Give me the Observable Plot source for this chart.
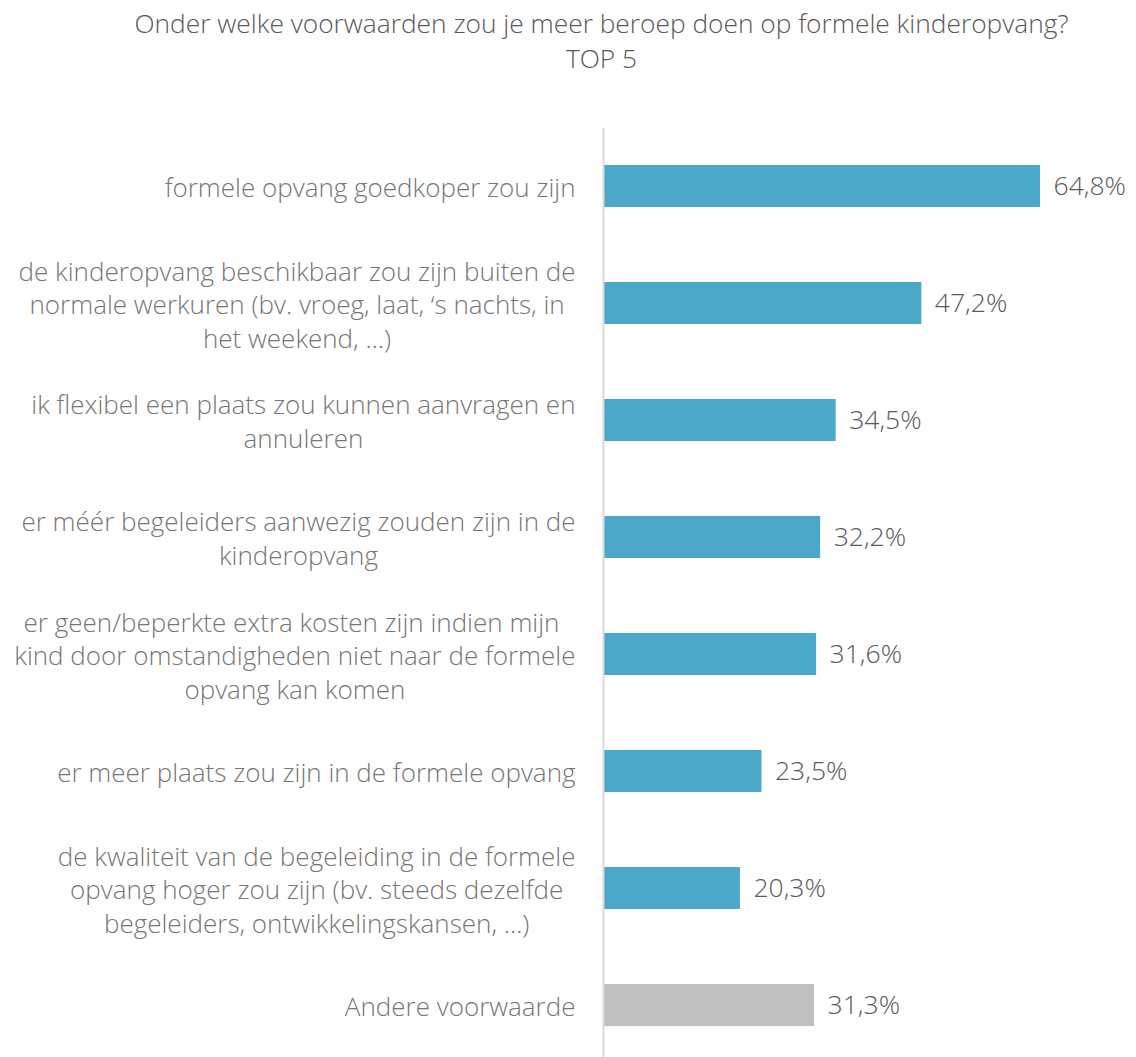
<!DOCTYPE html>
<html>
<head>
<meta charset="utf-8">
<script src="https://cdn.jsdelivr.net/npm/d3@7"></script>
<script src="https://cdn.jsdelivr.net/npm/@observablehq/plot@0.6"></script>
<style>
  body { margin: 0; background: #fff; }
  #title { height: 100px; font-family: "Open Sans", sans-serif; font-weight: 300; font-size: 26.3px; color: #595959; text-align: center; line-height: 35px; padding-top: 6px; box-sizing: border-box; width: 1203px; }
</style>
</head>
<body>
<div id="title">Onder welke voorwaarden zou je meer beroep doen op formele kinderopvang?<br>TOP 5</div>
<div id="chart"></div>
<script>
const categories = [
  "formele opvang goedkoper zou zijn",
  "de kinderopvang beschikbaar zou zijn buiten de\nnormale werkuren (bv. vroeg, laat, ‘s nachts, in\nhet weekend, …)",
  "ik flexibel een plaats zou kunnen aanvragen en\nannuleren",
  "er méér begeleiders aanwezig zouden zijn in de\nkinderopvang",
  "er geen/beperkte extra kosten zijn indien mijn \nkind door omstandigheden niet naar de formele\nopvang kan komen",
  "er meer plaats zou zijn in de formele opvang",
  "de kwaliteit van de begeleiding in de formele\nopvang hoger zou zijn (bv. steeds dezelfde\nbegeleiders, ontwikkelingskansen, ...)",
  "Andere voorwaarde"
];
const values = [64.8, 47.2, 34.5, 32.2, 31.6, 23.5, 20.3, 31.3];
const groups = ["top", "top", "top", "top", "top", "top", "top", "other"];

const data = categories.map((c, i) => ({cat: c, value: values[i], group: groups[i]}));

const FONT = "'Open Sans', sans-serif";
const LABEL_SIZE = 26;
const VALUE_SIZE = 26.5;
const ctx = document.createElement("canvas").getContext("2d");
ctx.font = `300 ${LABEL_SIZE}px 'Open Sans'`;
const blockWidth = s => d3.max(s.split("\n"), l => ctx.measureText(l).width);

const labelMarks = data.map(d => Plot.text([d], {
  y: "cat",
  frameAnchor: "left",
  text: "cat",
  textAnchor: "middle",
  lineAnchor: "middle",
  lineHeight: 1.29,
  dx: -(28 + blockWidth(d.cat) / 2),
  fontSize: LABEL_SIZE,
  fontWeight: 300,
  fill: "#767676"
}));

const chart = Plot.plot({
  width: 1136,
  height: 964,
  marginTop: 28,
  marginBottom: 0,
  marginLeft: 603,
  marginRight: 96,
  style: {fontFamily: FONT, background: "#fff"},
  x: {domain: [0, d3.max(values)], axis: null},
  y: {domain: categories, axis: null, paddingInner: 0.64, paddingOuter: 0.32},
  color: {domain: ["top", "other"], range: ["#4BA8C8", "#BFBFBF"]},
  marks: [
    Plot.barX(data, {x: "value", y: "cat", fill: "group"}),
    Plot.ruleX([0], {stroke: "#D9D9D9", strokeWidth: 2}),
    Plot.text(data, {
      x: "value", y: "cat",
      text: d => d.value.toFixed(1).replace(".", ",") + "%",
      textAnchor: "start", dx: 13,
      fontSize: VALUE_SIZE, fontWeight: 300, fill: "#595959"
    }),
    ...labelMarks
  ]
});
document.getElementById("chart").appendChild(chart);
</script>
</body>
</html>
